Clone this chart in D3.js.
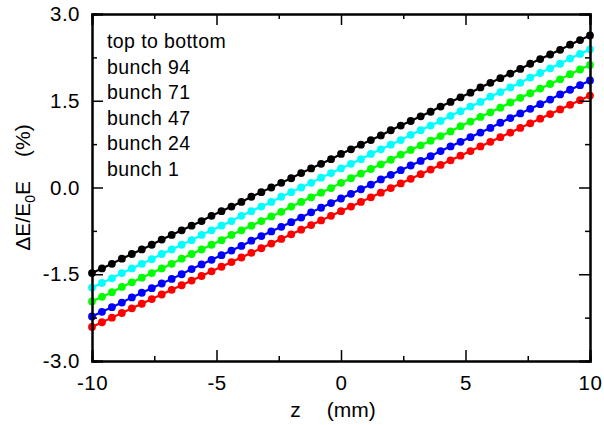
<!DOCTYPE html>
<html>
<head>
<meta charset="utf-8">
<script src="https://cdn.jsdelivr.net/npm/d3@7"></script>
<style>
body{margin:0;background:#fff}
text{font-family:"Liberation Sans",Arial,sans-serif}
</style>
</head>
<body>
<div id="graph"></div>
<script>
"use strict"
// z positions (mm)
var zVals=[-10,-9.6,-9.2,-8.8,-8.4,-8,-7.6,-7.2,-6.8,-6.4,-6,-5.6,-5.2,-4.8,-4.4,-4,-3.6,-3.2,-2.8,-2.4,-2,-1.6,-1.2,-0.8,-0.4,0,0.4,0.8,1.2,1.6,2,2.4,2.8,3.2,3.6,4,4.4,4.8,5.2,5.6,6,6.4,6.8,7.2,7.6,8,8.4,8.8,9.2,9.6,10]
// energy deviation (%) per bunch
var bunch94=[-1.48,-1.40,-1.32,-1.23,-1.15,-1.07,-0.99,-0.90,-0.82,-0.74,-0.66,-0.58,-0.49,-0.41,-0.33,-0.25,-0.16,-0.08,0.00,0.08,0.16,0.25,0.33,0.41,0.49,0.58,0.66,0.74,0.82,0.90,0.99,1.07,1.15,1.23,1.31,1.40,1.48,1.56,1.64,1.73,1.81,1.89,1.97,2.05,2.14,2.22,2.30,2.38,2.47,2.55,2.63]
var bunch71=[-1.73,-1.65,-1.57,-1.48,-1.40,-1.32,-1.24,-1.15,-1.07,-0.99,-0.91,-0.82,-0.74,-0.66,-0.58,-0.49,-0.41,-0.33,-0.25,-0.16,-0.08,0.00,0.08,0.17,0.25,0.33,0.41,0.49,0.58,0.66,0.74,0.82,0.91,0.99,1.07,1.15,1.24,1.32,1.40,1.48,1.57,1.65,1.73,1.81,1.90,1.98,2.06,2.14,2.23,2.31,2.39]
var bunch47=[-1.97,-1.89,-1.81,-1.72,-1.64,-1.56,-1.48,-1.40,-1.32,-1.23,-1.15,-1.07,-0.99,-0.91,-0.82,-0.74,-0.66,-0.58,-0.50,-0.42,-0.33,-0.25,-0.17,-0.09,-0.01,0.08,0.16,0.24,0.32,0.40,0.48,0.57,0.65,0.73,0.81,0.89,0.97,1.06,1.14,1.22,1.30,1.38,1.47,1.55,1.63,1.71,1.79,1.87,1.96,2.04,2.12]
var bunch24=[-2.23,-2.15,-2.07,-1.99,-1.90,-1.82,-1.74,-1.66,-1.58,-1.50,-1.41,-1.33,-1.25,-1.17,-1.09,-1.01,-0.92,-0.84,-0.76,-0.68,-0.60,-0.52,-0.43,-0.35,-0.27,-0.19,-0.11,-0.03,0.05,0.14,0.22,0.30,0.38,0.46,0.54,0.63,0.71,0.79,0.87,0.95,1.03,1.12,1.20,1.28,1.36,1.44,1.52,1.61,1.69,1.77,1.85]
var bunch1=[-2.41,-2.33,-2.25,-2.17,-2.09,-2.01,-1.93,-1.85,-1.77,-1.69,-1.61,-1.53,-1.45,-1.37,-1.29,-1.21,-1.13,-1.05,-0.97,-0.89,-0.81,-0.73,-0.65,-0.57,-0.49,-0.41,-0.33,-0.25,-0.17,-0.09,-0.01,0.07,0.15,0.23,0.31,0.39,0.47,0.55,0.63,0.71,0.79,0.87,0.95,1.03,1.11,1.19,1.27,1.35,1.43,1.51,1.59]
var seriesNames=['bunch 94','bunch 71','bunch 47','bunch 24','bunch 1']
var seriesColors=['#000000','#00ffff','#00ff00','#0000ff','#ff0000']
var xTicks=[-10,-5,0,5,10]
var xTickLabels=['-10','-5','0','5','10']
var xMinor=[-7.5,-2.5,2.5,7.5]
var yTicks=[-3,-1.5,0,1.5,3]
var yTickLabels=['-3.0','-1.5','0.0','1.5','3.0']
var yMinor=[-2.25,-0.75,0.75,2.25]
var legendLines=['top to bottom'].concat(seriesNames)

function draw(){
  var W=604,H=425
  var m={left:92,top:14,right:14,bottom:64}
  var pw=W-m.left-m.right,ph=H-m.top-m.bottom

  var svg=d3.select('#graph').append('svg').attr('width',W).attr('height',H)
  var g=svg.append('g').attr('transform','translate('+m.left+','+m.top+')')

  var x=d3.scaleLinear().domain([-10,10]).range([0,pw])
  var y=d3.scaleLinear().domain([-3,3]).range([ph,0])

  // series: lines with dots, bottom series first so the top one sits on top
  var allSeries=[bunch94,bunch71,bunch47,bunch24,bunch1]
  var line=d3.line().x(function(d){return x(d[0])}).y(function(d){return y(d[1])})
  for(var s=allSeries.length-1;s>=0;s--){
    var vals=allSeries[s]
    var pts=zVals.map(function(z,i){return [z,vals[i]]})
    var sg=g.append('g')
    sg.append('path').datum(pts).attr('d',line).attr('fill','none').attr('stroke',seriesColors[s]).attr('stroke-width',2.2)
    sg.selectAll('circle').data(pts).enter().append('circle')
      .attr('cx',function(d){return x(d[0])}).attr('cy',function(d){return y(d[1])})
      .attr('r',3.9).attr('fill',seriesColors[s])
  }

  // frame with inward ticks on all four sides
  var xAx=g.append('g').attr('transform','translate(0,'+ph+')')
    .call(d3.axisBottom(x).tickValues(xTicks).tickSize(-11).tickPadding(21).tickFormat(function(d,i){return xTickLabels[i]}))
  g.append('g').attr('transform','translate(0,'+ph+')')
    .call(d3.axisBottom(x).tickValues(xMinor).tickSize(-5).tickFormat(''))
  g.append('g').call(d3.axisTop(x).tickValues(xTicks).tickSize(-11).tickFormat(''))
  g.append('g').call(d3.axisTop(x).tickValues(xMinor).tickSize(-5).tickFormat(''))
  g.append('g').call(d3.axisLeft(y).tickValues(yTicks).tickSize(-11).tickPadding(12).tickFormat(function(d,i){return yTickLabels[i]}))
  g.append('g').call(d3.axisLeft(y).tickValues(yMinor).tickSize(-5).tickFormat(''))
  g.append('g').attr('transform','translate('+pw+',0)').call(d3.axisRight(y).tickValues(yTicks).tickSize(-11).tickFormat(''))
  g.append('g').attr('transform','translate('+pw+',0)').call(d3.axisRight(y).tickValues(yMinor).tickSize(-5).tickFormat(''))

  g.selectAll('.domain').attr('stroke','#000').attr('stroke-width',2)
  g.selectAll('.tick line').attr('stroke','#000').attr('stroke-width',1.5)
  g.selectAll('.tick text').attr('font-family','"Liberation Sans",Arial,sans-serif').attr('font-size',20.5).attr('letter-spacing',0.5).attr('fill','#000')
  xAx.selectAll('.tick text').attr('dy','0.4em')

  // legend text
  g.append('g').selectAll('text').data(legendLines).enter().append('text')
    .attr('x',15).attr('y',function(d,i){return 34+i*25.6})
    .attr('font-size',19.5).attr('letter-spacing',0.4).attr('fill','#000').text(function(d){return d})

  // axis titles
  var xt=svg.append('text').attr('x',m.left+x(0)-8).attr('y',417).attr('text-anchor','middle').attr('font-size',21)
  xt.append('tspan').text('z')
  xt.append('tspan').attr('dx',26).text('(mm)')

  var yt=svg.append('text').attr('transform','translate(30,'+(m.top+y(0))+') rotate(-90)').attr('text-anchor','middle').attr('font-size',21)
  yt.append('tspan').text('\u0394E/E')
  yt.append('tspan').attr('font-size',14).attr('dy',5).text('0')
  yt.append('tspan').attr('dy',-5).text('E')
  yt.append('tspan').attr('dx',24).text('(%)')
}
draw()
</script>
</body>
</html>
